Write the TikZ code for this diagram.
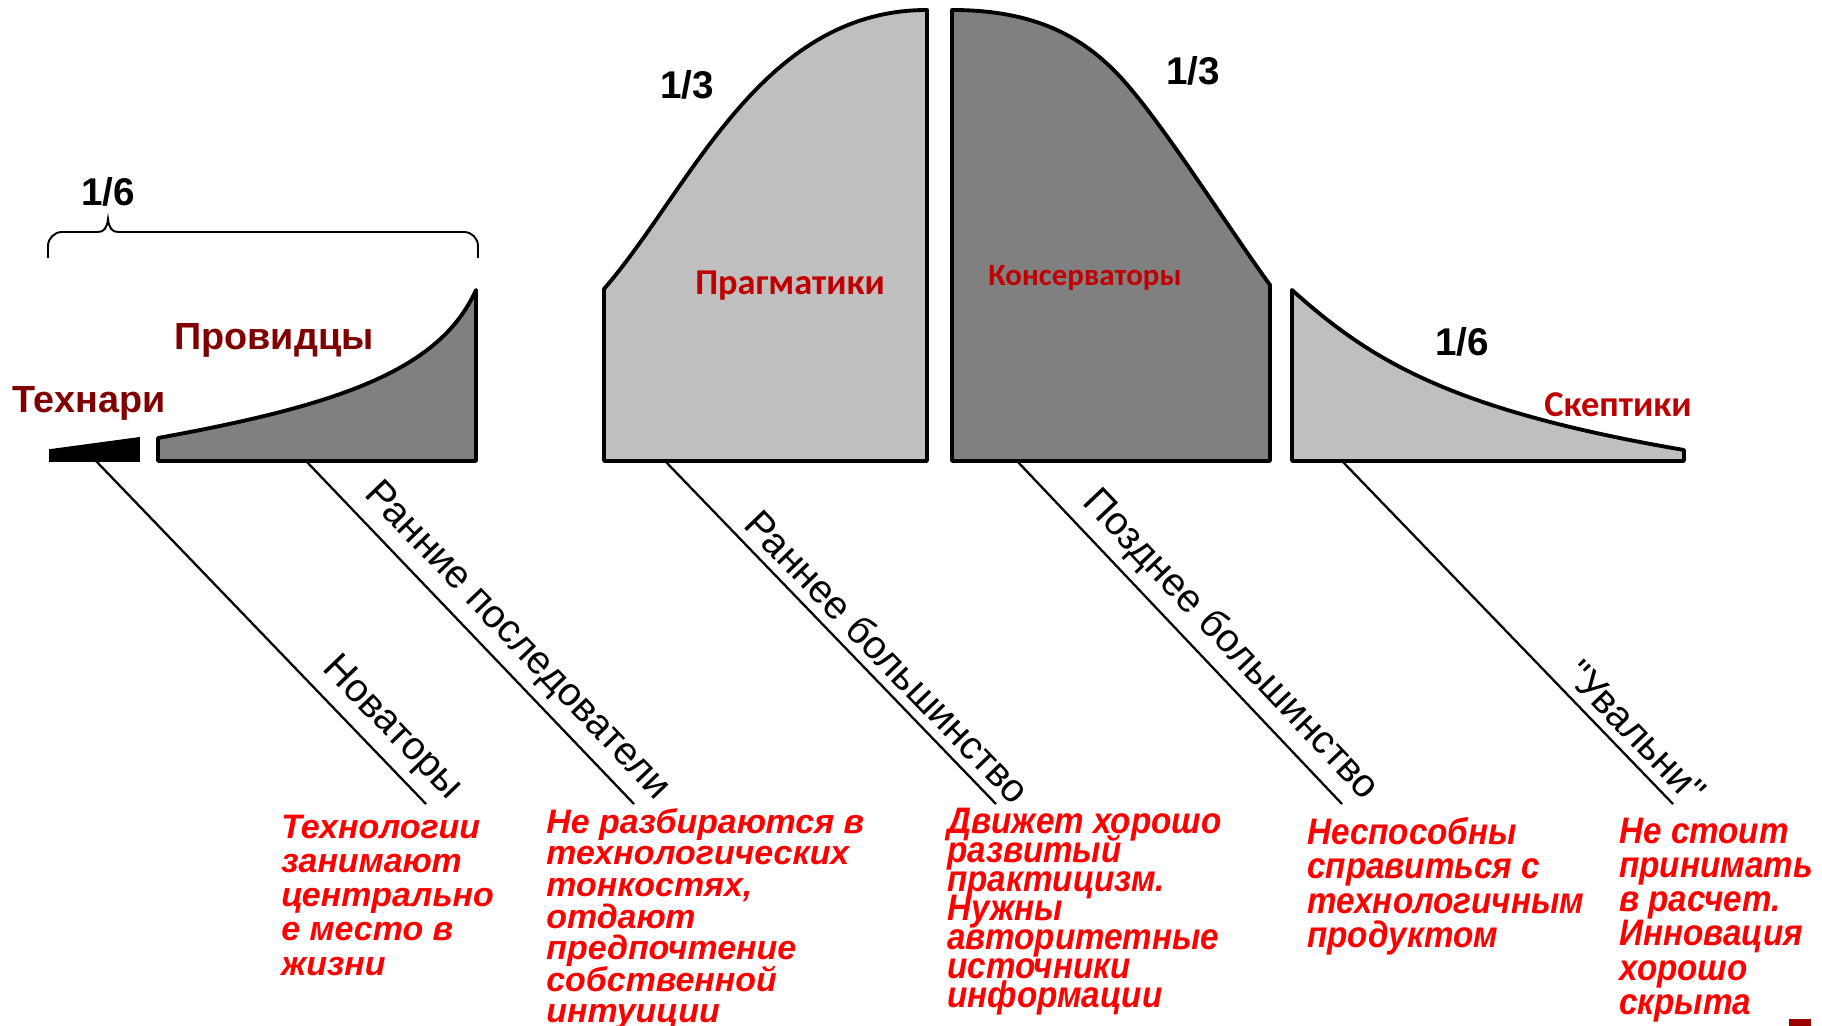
\documentclass[tikz,border=0pt]{standalone}
\usepackage{fontspec}
\setmainfont{Liberation Sans}
\newfontfamily\calibri{Carlito}
\newfontfamily\narrowsans[FakeStretch=0.9]{Liberation Sans}
\usetikzlibrary{positioning}
\definecolor{darkred}{RGB}{128,0,0}
\definecolor{labelred}{RGB}{192,0,0}
\definecolor{notered}{RGB}{255,0,0}
\colorlet{lightgrey}{black!25}
\colorlet{midgrey}{black!50}
\tikzstyle{part}=[draw=black, line width=2.2pt, line join=round]
\tikzstyle{lead}=[black, line width=1.3pt]
\tikzstyle{brace}=[black, line width=1.1pt]
\tikzstyle{share}=[font=\fontsize{22pt}{24pt}\selectfont\bfseries]
\tikzstyle{group}=[font=\fontsize{21.5pt}{24pt}\selectfont\bfseries, text=darkred]
\tikzstyle{cgroup}=[font=\fontsize{20.7pt}{24pt}\selectfont\calibri\bfseries, text=labelred]
\tikzstyle{stage}=[sloped, anchor=south east, inner xsep=4pt, inner ysep=5pt, pos=1.045,
  font=\fontsize{22.5pt}{26pt}\selectfont]
\tikzstyle{note}=[anchor=north west, align=left, inner sep=0pt, text=notered]
\newcommand{\notefont}[3]{\fontsize{#1}{#2}\selectfont#3\lineskiplimit=-\maxdimen\bfseries\itshape}

\begin{document}
\begin{tikzpicture}[x=0.02cm, y=-0.02cm]
  \useasboundingbox (0,0) rectangle (1822,1026);

  \filldraw[line width=1pt, fill=black] (50,461) -- (50,450) -- (139,438) -- (139,461) -- cycle;
  \filldraw[part, fill=midgrey] (158,461) -- (158,438) .. controls (340,405) and (440,370) ..
    (476,290) -- (476,461) -- cycle;
  \filldraw[part, fill=lightgrey] (604,461) -- (604,289) .. controls (690,190) and (760,10) ..
    (927,10) -- (927,461) -- cycle;
  \filldraw[part, fill=midgrey] (952,461) -- (952,10) .. controls (1040,10) and (1090,40) ..
    (1130,88) .. controls (1170,135) and (1230,230) .. (1270,285) -- (1270,461) -- cycle;
  \filldraw[part, fill=lightgrey] (1292,461) -- (1292,290) .. controls (1370,360) and (1450,410) ..
    (1684,450) -- (1684,461) -- cycle;

  \draw[brace, rounded corners=8] (48,258) |- (98,232);
  \draw[brace] (98,232) .. controls (104,232) and (107,228) .. (108,219)
    .. controls (109,228) and (112,232) .. (118,232);
  \draw[brace, rounded corners=8] (118,232) -| (478,258);

  \node[share] (sixl) at (108,192) {1/6};
  \node[share] (thirdl) at (687,85) {1/3};
  \node[share] (thirdr) at (1193,71) {1/3};
  \node[share] (sixr) at (1462,342) {1/6};

  \node[group] (tech) at (89,403) {Технари};
  \node[group] (vis) at (274,340) {Провидцы};
  \node[cgroup] (prag) at (790,286) {Прагматики};
  \node[cgroup, font=\fontsize{17.6pt}{20pt}\selectfont\calibri\bfseries] (cons) at (1085,278) {Консерваторы};
  \node[cgroup] (skep) at (1618,405) {Скептики};

  \coordinate (inn) at (96,461);    \coordinate (innend) at (426,804);
  \coordinate (early) at (306,461); \coordinate (earlyend) at (634,804);
  \coordinate (emaj) at (665,461);  \coordinate (emajend) at (996,804);
  \coordinate (lmaj) at (1017,461); \coordinate (lmajend) at (1342,804);
  \coordinate (lag) at (1342,461);  \coordinate (lagend) at (1673,804);

  \draw[lead] (inn) -- (innend) node[stage] (innl) {Новаторы};
  \draw[lead] (early) -- (earlyend) node[stage] (earlyl) {Ранние последователи};
  \draw[lead] (emaj) -- (emajend) node[stage] (emajl) {Раннее большинство};
  \draw[lead] (lmaj) -- (lmajend) node[stage] (lmajl) {Позднее большинство};
  \draw[lead] (lag) -- (lagend) node[stage] (lagl) {\textquotedbl Увальни\textquotedbl};

  \node[note, font=\notefont{19.3pt}{19.4pt}{}] (innnote) at (281,815)
    {Технологии\\занимают\\центрально\\е место в\\жизни};
  \node[note, font=\notefont{19.3pt}{18pt}{}] (earlynote) at (546,808)
    {Не разбираются в\\технологических\\тонкостях,\\отдают\\предпочтение\\собственной\\интуиции};
  \node[note, font=\notefont{21pt}{16.5pt}{\narrowsans}] (emajnote) at (947,808)
    {Движет хорошо\\развитый\\практицизм.\\Нужны\\авторитетные\\источники\\информации};
  \node[note, font=\notefont{21pt}{19.6pt}{\narrowsans}] (lmajnote) at (1307,817)
    {Неспособны\\справиться с\\технологичным\\продуктом};
  \node[note, font=\notefont{21pt}{19.4pt}{\narrowsans}] (lagnote) at (1619,818)
    {Не стоит\\принимать\\в расчет.\\Инновация\\хорошо\\скрыта};

  \fill[darkred!80!red] (1789,1019) rectangle (1811,1026);
\end{tikzpicture}
\end{document}
